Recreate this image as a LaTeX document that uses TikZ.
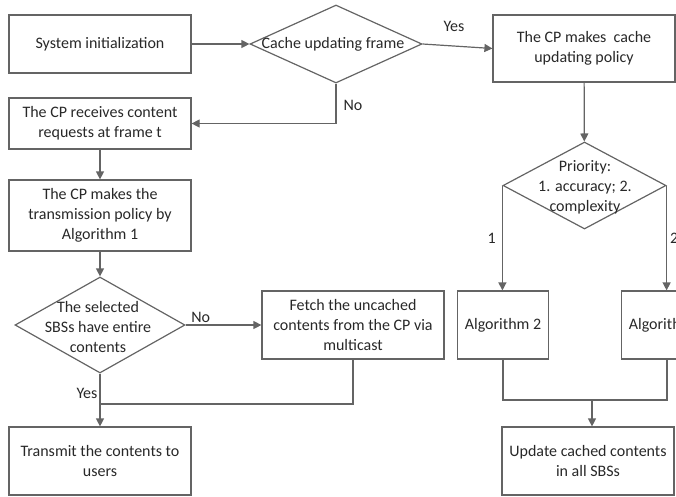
\documentclass[tikz,border=0pt]{standalone}
\usepackage{fontspec}
\setmainfont{Carlito}
\usepackage{xcolor}
\usepackage{tikz}
\usetikzlibrary{shapes.geometric, arrows.meta, positioning}
\definecolor{edge}{RGB}{100,100,100}
\definecolor{ink}{RGB}{40,40,40}
\tikzset{
    box/.style={rectangle, draw=edge, line width=1.2pt, minimum width=182pt, inner sep=0pt, text centered, align=center, text=ink},
    decision/.style={diamond, draw=edge, line width=1.2pt, inner sep=0pt},
    flow/.style={-{Triangle[length=8pt,width=8pt]}, draw=edge, line width=1.2pt},
    link/.style={draw=edge, line width=1.2pt}
}

\begin{document}
\begin{tikzpicture} [
    x=1pt, y=-1pt,
    font=\fontsize{16}{20}\selectfont,
    label/.style={text=ink, inner sep=0pt, align=center}
]
    \useasboundingbox (0,0) rectangle (676,496);
    \clip (0,0) rectangle (676,496);

    % Left column
    \node[box, minimum height=58pt] (sys_init) at (100,44) {System initialization};
    \node[box, minimum height=51pt] (cp_receive) at (100,123.5) {The CP receives content\\ requests at frame t};
    \node[box, minimum height=71pt] (cp_transmit) at (100,215.5) {The CP makes the\\ transmission policy by\\ Algorithm 1};

    % Cache updating frame decision
    \node[decision, minimum width=172pt, minimum height=78pt] (cache_frame) at (336,44) {};
    \node[label] at (333,44) {Cache updating frame};

    % Entire contents decision
    \node[decision, minimum width=170pt, minimum height=96pt] (sbs_check) at (100,325) {};
    \node[label] at (98,327) {The selected\\ SBSs have entire\\ contents};

    \node[box, minimum height=68pt] (fetch) at (353,325) {Fetch the uncached\\ contents from the CP via\\ multicast};
    \node[box, minimum height=68pt] (transmit) at (100,461) {Transmit the contents to\\ users};

    % Right column
    \node[box, minimum height=67pt] (cp_cache) at (584,48.5) {The CP makes\ \ cache\\ updating policy};
    \node[decision, minimum width=163pt, minimum height=87pt] (priority) at (584.5,185.5) {};
    \node[label] at (585,187) {Priority:\\ 1. accuracy; 2.\\ complexity};

    \node[box, minimum width=91pt, minimum height=68pt] (alg_two) at (503,325) {Algorithm 2};
    \node[box, minimum width=91pt, minimum height=68pt] (alg_three) at (667,325) {Algorithm 3};
    \node[box, minimum width=172pt, minimum height=68pt] (update) at (588,461) {Update cached contents\\ in all SBSs};

    \coordinate (merge_left) at (100,404);
    \coordinate (merge_right) at (592,400);

    % Flows
    \draw[flow] (sys_init) -- (cache_frame);
    \draw[flow] (cache_frame.east) -- (cp_cache.west) node[label, pos=0.45, above=14pt] {Yes};
    \draw[flow] (cache_frame.south) |- (cp_receive.east) node[label, pos=0.27, right=7pt] {No};
    \draw[flow] (cp_receive) -- (cp_transmit);
    \draw[flow] (cp_transmit) -- (sbs_check);
    \draw[flow] (sbs_check.east) -- (fetch.west) node[label, pos=0.2, above=2pt] {No};
    \draw[flow] (sbs_check.south) -- (transmit.north) node[label, pos=0.38, left=2pt] {Yes};
    \draw[link] (fetch.south) |- (merge_left);

    \draw[flow] (cp_cache) -- (priority);
    \draw[flow] (priority.west) -- (priority.west |- alg_two.north) node[label, pos=0.5, left=6pt] {1};
    \draw[flow] (priority.east) -- (priority.east |- alg_three.north) node[label, pos=0.5, right=3pt] {2};
    \draw[link] (alg_two.south) |- (merge_right) -| (alg_three.south);
    \draw[flow] (merge_right) -- (merge_right |- update.north);
\end{tikzpicture}
\end{document}
